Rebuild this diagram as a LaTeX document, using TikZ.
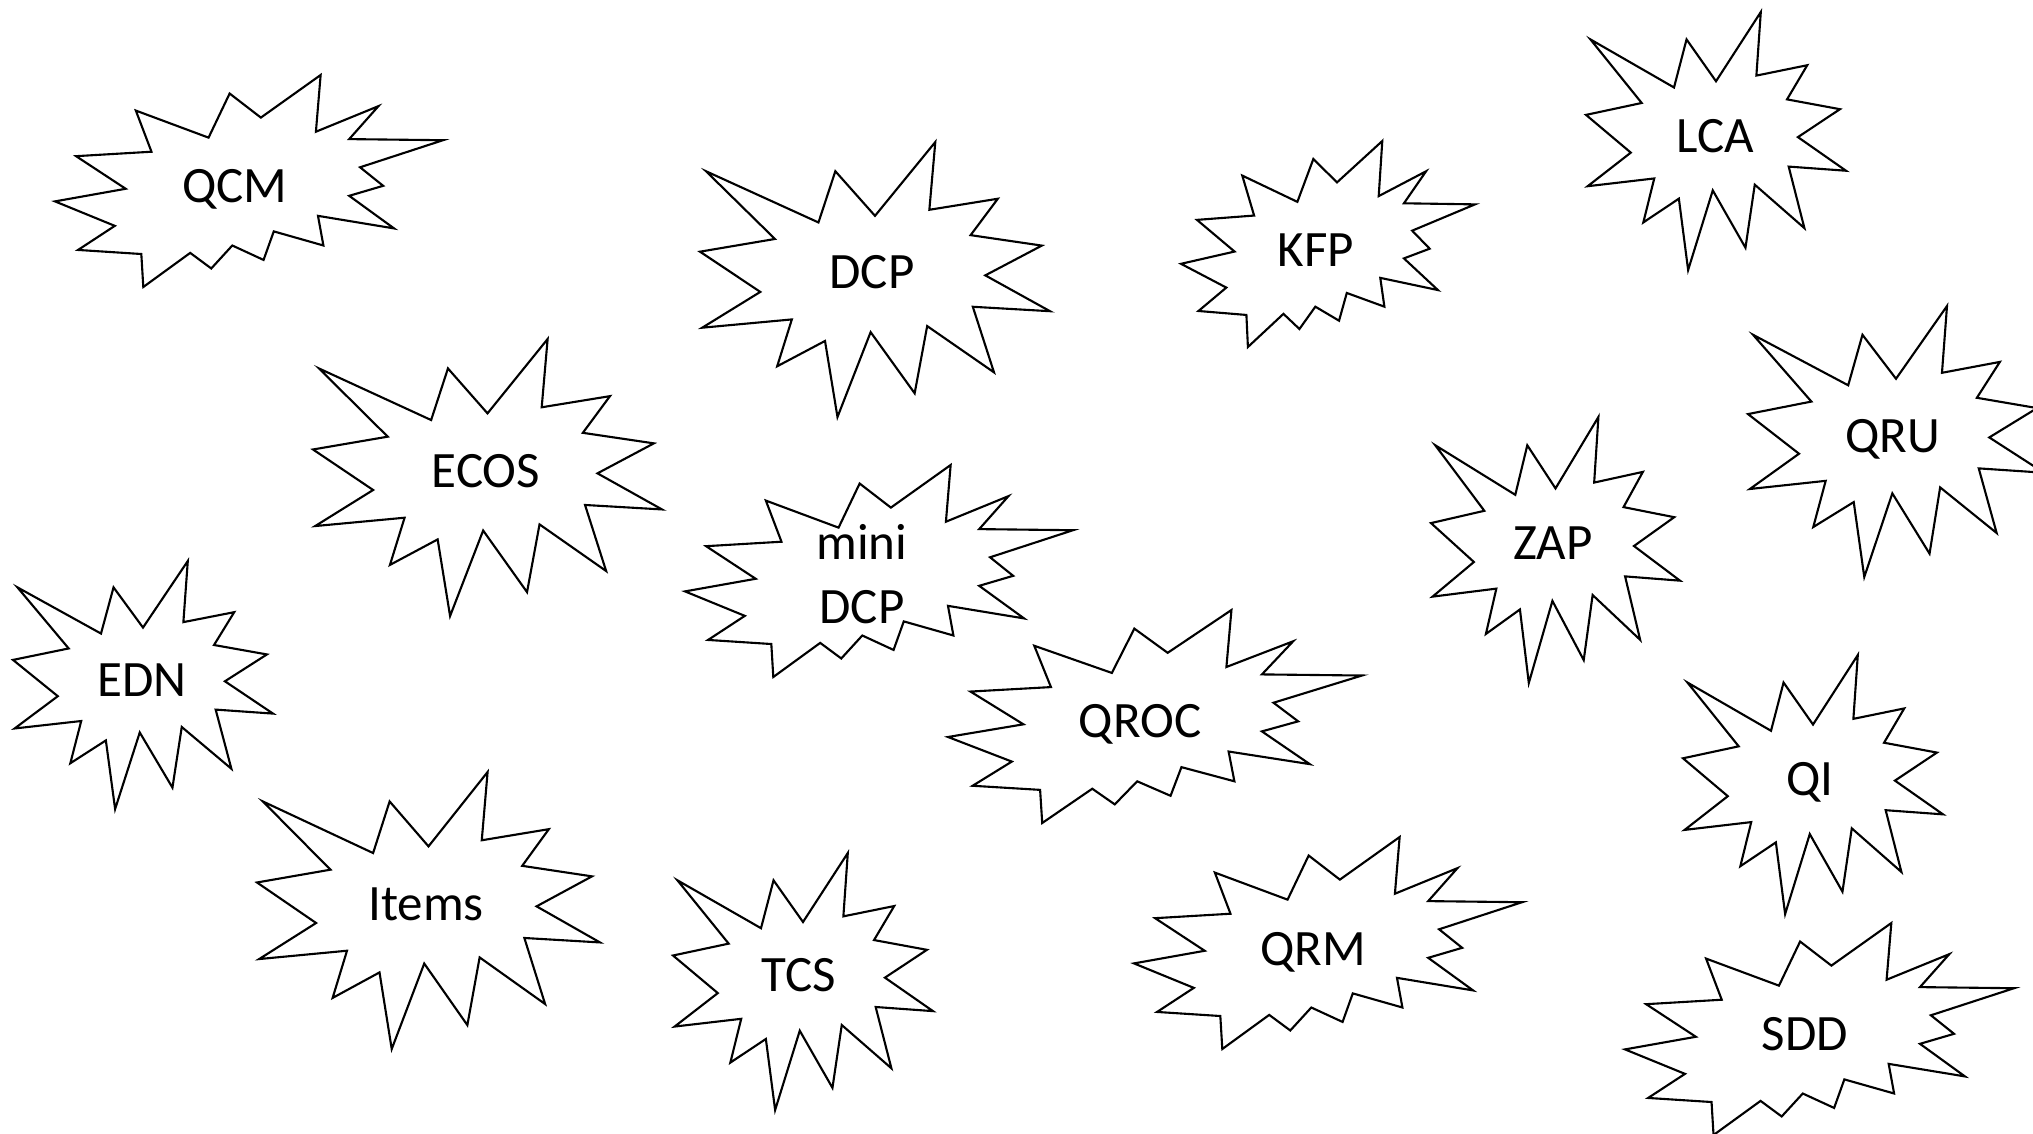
\documentclass[tikz,border=0pt]{standalone}
\usepackage{fontspec}
\setmainfont{Carlito}
\usepackage{tikz}
\usetikzlibrary{calc, positioning}
\tikzstyle{burst} = [draw=black, line width=0.6pt, fill=white, line join=miter]
\tikzstyle{word} = [text centered, anchor=base, inner sep=0pt,
	font=\fontsize{14.5}{18}\selectfont]
% explosion 1 outline, box from (#1,#2) with width #3 and height #4
\newcommand{\boomA}[4]{%
	\draw[burst, shift={(#1,#2)}, xscale=#3, yscale=#4]
	(0.5000,0.2685) -- (0.6723,0) -- (0.6553,0.2465) -- (0.8509,0.2063) --
	(0.7732,0.3387) -- (0.9767,0.3767) -- (0.8151,0.4850) -- (1,0.6153) --
	(0.7795,0.5992) -- (0.8400,0.8377) -- (0.6491,0.6693) -- (0.6133,0.9138) --
	(0.4876,0.6914) -- (0.3928,1) -- (0.3572,0.7235) -- (0.2205,0.8156) --
	(0.2624,0.6452) -- (0.0063,0.6753) -- (0.1723,0.5451) -- (0,0.3988) --
	(0.2142,0.3526) -- (0.0171,0.1063) -- (0.3385,0.2926) -- (0.3867,0.1063) -- cycle;
}
% explosion 2 outline, same arguments
\newcommand{\boomB}[4]{%
	\draw[burst, shift={(#1,#2)}, xscale=#3, yscale=#4]
	(0.5306,0.2010) -- (0.6847,0) -- (0.6725,0.2675) -- (0.8337,0.1469) --
	(0.7583,0.3024) -- (1,0.3076) -- (0.7863,0.4353) -- (0.8458,0.5227) --
	(0.7583,0.5699) -- (0.8739,0.7237) -- (0.6778,0.6644) -- (0.6918,0.8042) --
	(0.5639,0.7377) -- (0.5376,0.8723) -- (0.4570,0.8042) -- (0.4028,0.9126) --
	(0.3485,0.8391) -- (0.2276,1) -- (0.2225,0.8444) -- (0.0595,0.8252) --
	(0.1542,0.7116) -- (0,0.5962) -- (0.1822,0.5367) -- (0.0543,0.3829) --
	(0.2487,0.3619) -- (0.2084,0.1678) -- (0.3958,0.2955) -- (0.4501,0.0874) -- cycle;
}

\begin{document}
\begin{tikzpicture}[x=0.01cm, y=-0.01cm]
	% set up page
	\useasboundingbox (0,0) rectangle (2033,1133);
	\clip (0,0) rectangle (2033,1133);

	% set up explosion 1 shapes
	\boomA{700}{142}{350}{275}
	\boomA{1586}{12}{260}{258}
	\boomA{313}{339}{349}{277}
	\boomA{1431}{417}{249}{266}
	\boomA{1748}{306}{296}{271}
	\boomA{13}{561}{260}{248}
	\boomA{1683}{655}{260}{259}
	\boomA{257}{772}{343}{277}
	\boomA{673}{853}{260}{257}

	% set up explosion 2 shapes
	\boomB{55}{75}{388}{212}
	\boomB{1181}{141}{294}{206}
	\boomB{685}{465}{388}{212}
	\boomB{948}{610}{414}{213}
	\boomB{1134}{837}{388}{212}
	\boomB{1625}{923}{389}{212}

	% set up labels
	\node (qcm) [word] at (235,202) {QCM};
	\node (dcp) [word] at (872,288) {DCP};
	\node (kfp) [word] at (1316,266) {KFP};
	\node (lca) [word] at (1715,152) {LCA};
	\node (ecos) [word] at (486,487) {ECOS};
	\node (minidcp) [word, align=center] at (862,623) {mini\\DCP};
	\node (qru) [word] at (1893,452) {QRU};
	\node (zap) [word] at (1553,559) {ZAP};
	\node (edn) [word] at (142,696) {EDN};
	\node (qroc) [word] at (1140,737) {QROC};
	\node (qi) [word] at (1810,795) {QI};
	\node (items) [word] at (426,920) {Items};
	\node (tcs) [word] at (799,991) {TCS};
	\node (qrm) [word] at (1313,965) {QRM};
	\node (sdd) [word] at (1805,1050) {SDD};

\end{tikzpicture}
\end{document}
